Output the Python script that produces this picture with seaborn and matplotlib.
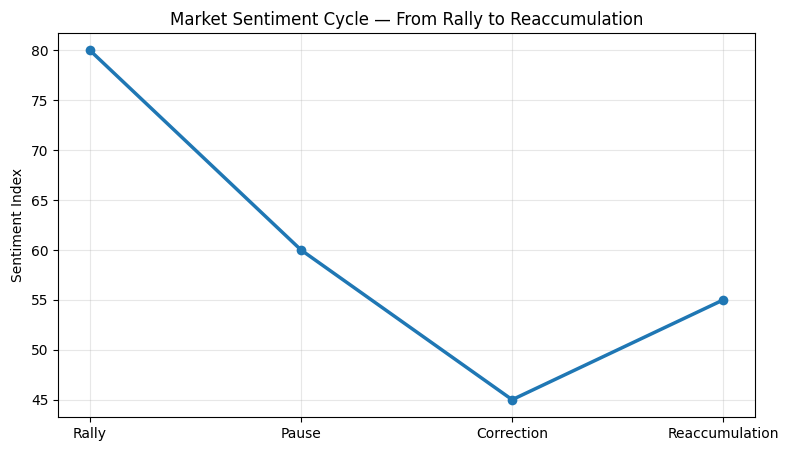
import pandas as pd
import seaborn as sns
import matplotlib.pyplot as plt

stages = ["Rally", "Pause", "Correction", "Reaccumulation"]
sentiment = [80, 60, 45, 55]

df = pd.DataFrame({"stage": stages, "sentiment": sentiment})

fig, ax = plt.subplots(figsize=(7.88, 4.51), dpi=100)
sns.lineplot(data=df, x="stage", y="sentiment", marker="o", markersize=7,
             linewidth=2.5, color="#1f77b4", markeredgewidth=0, ax=ax)
ax.set_title("Market Sentiment Cycle — From Rally to Reaccumulation")
ax.set_xlabel("")
ax.set_ylabel("Sentiment Index")
ax.grid(True, alpha=0.3)
fig.subplots_adjust(left=0.074, right=0.958, top=0.927, bottom=0.075)
plt.savefig("out.png")
